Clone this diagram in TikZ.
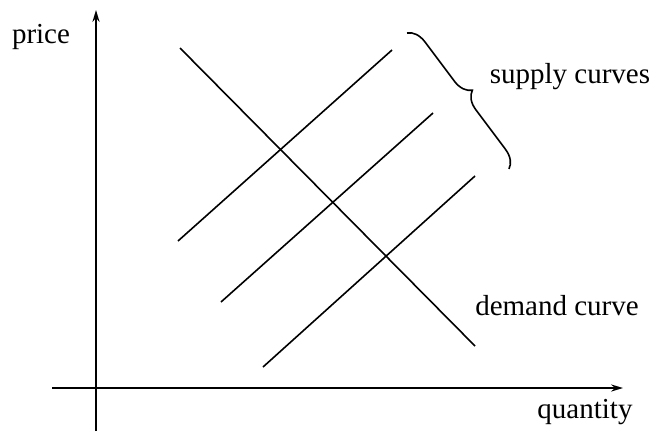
\documentclass[tikz,border=0pt]{standalone}
\usepackage{fontspec}
\setmainfont{Liberation Serif}
\usetikzlibrary{arrows.meta,decorations.pathreplacing}

\begin{document}
\begin{tikzpicture}[x=0.5pt, y=-0.5pt, line width=0.8pt,
    axis/.style={-{Stealth[length=6pt,width=3.6pt,inset=2pt]}},
    lbl/.style={font=\fontsize{14.5pt}{16pt}\selectfont, inner sep=0pt}]
    \useasboundingbox (0,0) rectangle (652,434);

    % Axes
    \draw[axis] (96,431) -- (96,10);
    \draw[axis] (52,388) -- (623,388);
    \node[lbl] (price) at (41,37) {price};
    \node[lbl] (quantity) at (585,412) {quantity};

    % Demand curve
    \draw (180,48) -- (475,346);
    \node[lbl] (demand) at (557,306) {demand curve};

    % Supply curves
    \draw (178,241) -- (392,50);
    \draw (221,302) -- (433,113);
    \draw (263,367) -- (475,176);

    % Brace
    \draw[decorate, decoration={brace, amplitude=9pt}] (407,33) -- (509,169);
    \node[lbl] (supply) at (570,77) {supply curves};
\end{tikzpicture}
\end{document}
